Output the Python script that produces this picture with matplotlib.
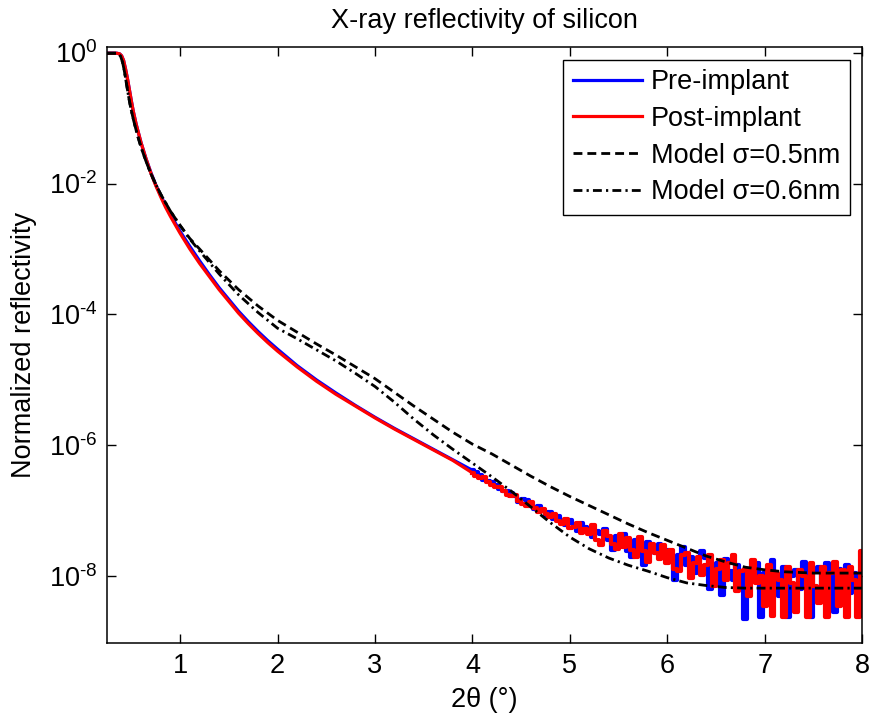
import numpy as np
import matplotlib
matplotlib.use("Agg")
import matplotlib.pyplot as plt
from matplotlib.ticker import NullLocator

# measured curves, log10(R); smooth part of both scans
X_SMOOTH = [0.25, 0.30, 0.35, 0.38, 0.40, 0.42, 0.44, 0.46, 0.48, 0.50,
            0.52, 0.55, 0.60, 0.65, 0.70, 0.75, 0.80, 0.85, 0.90, 0.95,
            1.00, 1.10, 1.20, 1.30, 1.40, 1.50, 1.60, 1.70, 1.80, 1.90,
            2.00, 2.20, 2.40, 2.60, 2.80, 3.00, 3.20, 3.40, 3.60, 3.80]
PRE_SMOOTH = [-0.01, -0.01, -0.01, -0.02, -0.05, -0.12, -0.25, -0.40, -0.57, -0.74,
              -0.90, -1.10, -1.38, -1.62, -1.83, -2.02, -2.18, -2.33, -2.47, -2.60,
              -2.73, -2.96, -3.18, -3.39, -3.59, -3.77, -3.95, -4.11, -4.26, -4.40,
              -4.53, -4.78, -5.00, -5.20, -5.39, -5.57, -5.74, -5.90, -6.06, -6.22]
POST_SMOOTH = [-0.01, -0.01, -0.01, -0.02, -0.05, -0.12, -0.25, -0.40, -0.57, -0.74,
               -0.90, -1.10, -1.38, -1.62, -1.84, -2.03, -2.20, -2.36, -2.50, -2.63,
               -2.76, -3.00, -3.22, -3.42, -3.62, -3.80, -3.98, -4.14, -4.29, -4.43,
               -4.56, -4.80, -5.02, -5.22, -5.40, -5.58, -5.75, -5.91, -6.07, -6.23]

# noisy tail, 4.00 .. 8.00 every 0.04
X_TAIL = [round(4.0 + 0.04 * i, 2) for i in range(101)]
PRE_TAIL = [-6.38, -6.41, -6.45, -6.53, -6.55, -6.56, -6.60, -6.66, -6.70, -6.69,
            -6.72, -6.78, -6.86, -6.82, -6.84, -6.93, -6.97, -6.92, -6.98, -7.06,
            -7.02, -7.12, -7.08, -7.16, -7.22, -7.14, -7.20, -7.30, -7.18, -7.25,
            -7.26, -7.40, -7.30, -7.36, -7.28, -7.45, -7.60, -7.38, -7.44, -7.35,
            -7.62, -7.70, -7.45, -7.52, -7.82, -7.48, -7.56, -7.65, -7.50, -7.72,
            -7.60, -7.75, -8.05, -7.68, -7.55, -7.82, -7.70, -7.95, -7.78, -7.62,
            -7.72, -8.20, -7.90, -7.80, -8.28, -7.74, -7.92, -8.05, -7.82, -7.95,
            -8.65, -7.88, -8.05, -7.80, -8.62, -7.95, -8.10, -7.75, -8.00, -8.30,
            -7.85, -8.62, -8.00, -7.90, -8.20, -7.78, -8.05, -8.62, -7.92, -7.85,
            -8.15, -7.80, -7.95, -8.55, -7.88, -8.10, -7.82, -8.25, -7.95, -8.05,
            -7.90]
POST_TAIL = [-6.42, -6.46, -6.50, -6.49, -6.56, -6.60, -6.64, -6.63, -6.70, -6.76,
             -6.78, -6.76, -6.85, -6.90, -6.92, -6.86, -6.95, -7.02, -6.97, -7.05,
             -7.10, -7.04, -7.16, -7.20, -7.12, -7.26, -7.24, -7.18, -7.34, -7.28,
             -7.36, -7.22, -7.44, -7.52, -7.30, -7.38, -7.50, -7.58, -7.36, -7.55,
             -7.42, -7.60, -7.70, -7.40, -7.62, -7.78, -7.50, -7.64, -7.74, -7.52,
             -7.80, -7.60, -7.88, -7.92, -7.68, -7.64, -8.02, -7.80, -7.70, -7.98,
             -7.82, -7.68, -8.15, -7.88, -7.75, -8.05, -7.80, -7.68, -8.22, -7.92,
             -7.90, -8.30, -7.75, -8.10, -8.00, -8.45, -7.82, -8.60, -7.95, -8.05,
             -8.62, -7.85, -8.10, -8.55, -7.90, -8.00, -8.62, -7.80, -8.15, -8.40,
             -7.85, -8.62, -7.95, -7.78, -8.45, -7.90, -8.62, -7.85, -8.05, -8.62,
             -7.62]

# model curves, log10(R)
X_MOD = [0.25, 0.30, 0.35, 0.37, 0.39, 0.41, 0.43, 0.45, 0.47, 0.49,
         0.52, 0.56, 0.60, 0.65, 0.70, 0.75, 0.80, 0.90, 1.00, 1.10,
         1.20, 1.40, 1.60, 1.80, 2.00, 2.20, 2.40, 2.60, 2.80, 3.00,
         3.20, 3.40, 3.60, 3.80, 4.00, 4.20, 4.40, 4.60, 4.80, 5.00,
         5.20, 5.40, 5.60, 5.80, 6.00, 6.20, 6.40, 6.60, 6.80, 7.00,
         7.20, 7.50, 8.00]
MOD05 = [-0.01, -0.01, -0.01, -0.02, -0.06, -0.15, -0.30, -0.48, -0.66, -0.82,
         -1.02, -1.25, -1.45, -1.66, -1.85, -2.01, -2.16, -2.42, -2.64, -2.84,
         -3.00, -3.33, -3.62, -3.87, -4.09, -4.27, -4.45, -4.62, -4.80, -4.98,
         -5.19, -5.40, -5.60, -5.80, -5.98, -6.13, -6.30, -6.47, -6.63, -6.78,
         -6.92, -7.06, -7.20, -7.33, -7.45, -7.57, -7.69, -7.78, -7.86, -7.90,
         -7.93, -7.95, -7.95]
MOD06 = [-0.01, -0.01, -0.01, -0.02, -0.06, -0.15, -0.30, -0.48, -0.66, -0.82,
         -1.02, -1.25, -1.45, -1.66, -1.85, -2.01, -2.16, -2.42, -2.64, -2.85,
         -3.03, -3.38, -3.70, -3.97, -4.21, -4.37, -4.54, -4.71, -4.90, -5.10,
         -5.34, -5.60, -5.84, -6.06, -6.27, -6.48, -6.70, -6.94, -7.18, -7.40,
         -7.58, -7.72, -7.83, -7.92, -8.02, -8.10, -8.14, -8.17, -8.18, -8.18,
         -8.18, -8.18, -8.18]

Y_TICKS = [1e0, 1e-2, 1e-4, 1e-6, 1e-8]
Y_TICK_LABELS = [r"$10^{0}$", r"$10^{\text{-}2}$", r"$10^{\text{-}4}$",
                 r"$10^{\text{-}6}$", r"$10^{\text{-}8}$"]
LABELS = ["Pre-implant", "Post-implant", "Model \u03c3=0.5nm", "Model \u03c3=0.6nm"]

plt.rcParams["font.family"] = ["Liberation Sans", "DejaVu Sans"]
plt.rcParams["mathtext.fontset"] = "custom"
plt.rcParams["mathtext.rm"] = "Liberation Sans"
plt.rcParams["mathtext.it"] = "Liberation Sans:italic"
plt.rcParams["font.size"] = 19.5

fig = plt.figure(figsize=(8.7, 7.17), dpi=100)
ax = fig.add_axes([0.123, 0.103, 0.868, 0.831])

# smooth part as a plain line, noisy tail drawn as thick steps (joined at x=4.0)
x_head = X_SMOOTH + X_TAIL[:1]
for smooth, tail, col, lab in [(PRE_SMOOTH, PRE_TAIL, "#0000ff", LABELS[0]),
                               (POST_SMOOTH, POST_TAIL, "#ff0000", LABELS[1])]:
    ax.plot(x_head, 10 ** np.array(smooth + tail[:1]), color=col, lw=2.3, label=lab)
    ax.plot(X_TAIL, 10 ** np.array(tail), color=col, lw=3, drawstyle="steps-mid")

ax.plot(X_MOD, 10 ** np.array(MOD05), color="k", lw=2, ls=(0, (3.2, 1.8)), label=LABELS[2])
ax.plot(X_MOD, 10 ** np.array(MOD06), color="k", lw=2, ls=(0, (3.2, 1.5, 0.8, 1.5)), label=LABELS[3])

ax.set_yscale("log")
ax.set_xlim(0.25, 8)
ax.set_ylim(10 ** -9.02, 10 ** 0.08)
ax.set_xticks(range(1, 9))
ax.set_yticks(Y_TICKS)
ax.set_yticklabels(Y_TICK_LABELS)
ax.yaxis.set_minor_locator(NullLocator())
ax.tick_params(direction="in", length=6.5, width=1, top=True, right=True, pad=7)
for s in ax.spines.values():
    s.set_linewidth(1.1)

ax.set_title("X-ray reflectivity of silicon", fontsize=19.5, pad=14)
ax.set_xlabel("2\u03b8 (\u00b0)", labelpad=6)
ax.set_ylabel("Normalized reflectivity", labelpad=8)

leg = ax.legend(loc="upper right", fancybox=False, framealpha=1, edgecolor="k",
                handlelength=2.55, handletextpad=0.35, labelspacing=0.4,
                borderpad=0.35, borderaxespad=0.45)
leg.get_frame().set_linewidth(1.0)

fig.savefig("out.png", dpi=100)
